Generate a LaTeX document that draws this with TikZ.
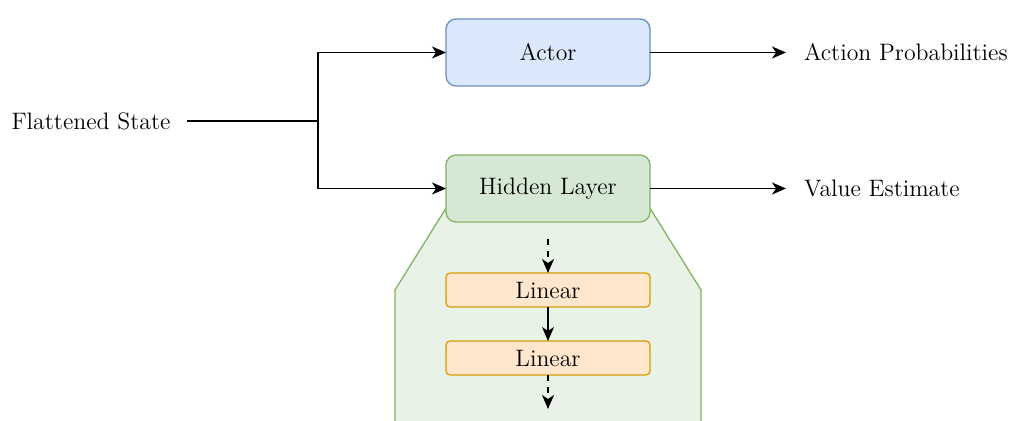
\documentclass[tikz,border=0pt]{standalone}
\usepackage{xcolor}
\usepackage{tikz}
\usetikzlibrary{shapes,arrows.meta,positioning,calc}

\definecolor{actorfill}{HTML}{DAE8FC}
\definecolor{actorline}{HTML}{6C8EBF}
\definecolor{hiddenfill}{HTML}{D5E8D4}
\definecolor{hiddenline}{HTML}{82B366}
\definecolor{linfill}{HTML}{FFE6CC}
\definecolor{linline}{HTML}{D79B00}

\begin{document}
\begin{tikzpicture}[
        x=0.5pt, y=-0.5pt,
        auto,
        font=\fontsize{11.9}{14}\selectfont,
        block/.style={rectangle, draw, text centered, rounded corners=5pt, minimum width=102pt, minimum height=33.5pt, inner sep=0pt, outer sep=0pt, line width=0.65pt},
        linbox/.style={rectangle, draw=linline, fill=linfill, text centered, rounded corners=2pt, minimum width=102pt, minimum height=17pt, inner sep=0pt, outer sep=0pt, line width=0.65pt},
        outlabel/.style={inner xsep=9pt, inner ysep=2pt, outer sep=0pt, align=left},
        arrow/.style={draw, -{Stealth[length=7pt, width=6pt, inset=2pt]}, line width=0.75pt},
        dashedarrow/.style={draw, dashed, -{Stealth[length=7pt, width=6pt, inset=2pt]}, line width=0.75pt}
    ]
    \useasboundingbox (0,0) rectangle (1012,421);

    % Expanded view of the hidden layer
    \fill [hiddenfill!55] (448,205) -- (395,290) -- (395,421) -- (701,421) -- (701,290) -- (648,205) -- cycle;
    \draw [hiddenline, line width=0.65pt] (448,205) -- (395,290) -- (395,421);
    \draw [hiddenline, line width=0.65pt] (648,205) -- (701,290) -- (701,421);

    % Input
    \node [inner xsep=8.5pt, outer sep=0pt] (state) at (91,121) {Flattened State};
    \coordinate (split) at (318,121);

    % Actor and hidden layer
    \node [block, draw=actorline, fill=actorfill] (actor) at (548,52.5) {Actor};
    \node [block, draw=hiddenline, fill=hiddenfill, below=34.5pt of actor] (hidden) {Hidden Layer};

    % Outputs
    \node [outlabel, right=68pt of actor] (probs) {Action Probabilities};
    \node [outlabel, right=68pt of hidden] (value) {Value Estimate};

    % Inside the hidden layer
    \node [linbox, below=25.5pt of hidden] (lin1) {Linear};
    \node [linbox, below=17pt of lin1] (lin2) {Linear};
    \coordinate (inTop) at (548,239);
    \coordinate (outBot) at (548,409);

    % Main flow arrows
    \draw [line width=0.75pt] (state.east) -- (split);
    \path [arrow] (split) |- (actor.west);
    \path [arrow] (split) |- (hidden.west);
    \path [arrow] (actor) -- (probs);
    \path [arrow] (hidden) -- (value);

    % Layer stack
    \path [dashedarrow] (inTop) -- (lin1);
    \path [arrow] (lin1) -- (lin2);
    \path [dashedarrow] (lin2) -- (outBot);

\end{tikzpicture}
\end{document}
